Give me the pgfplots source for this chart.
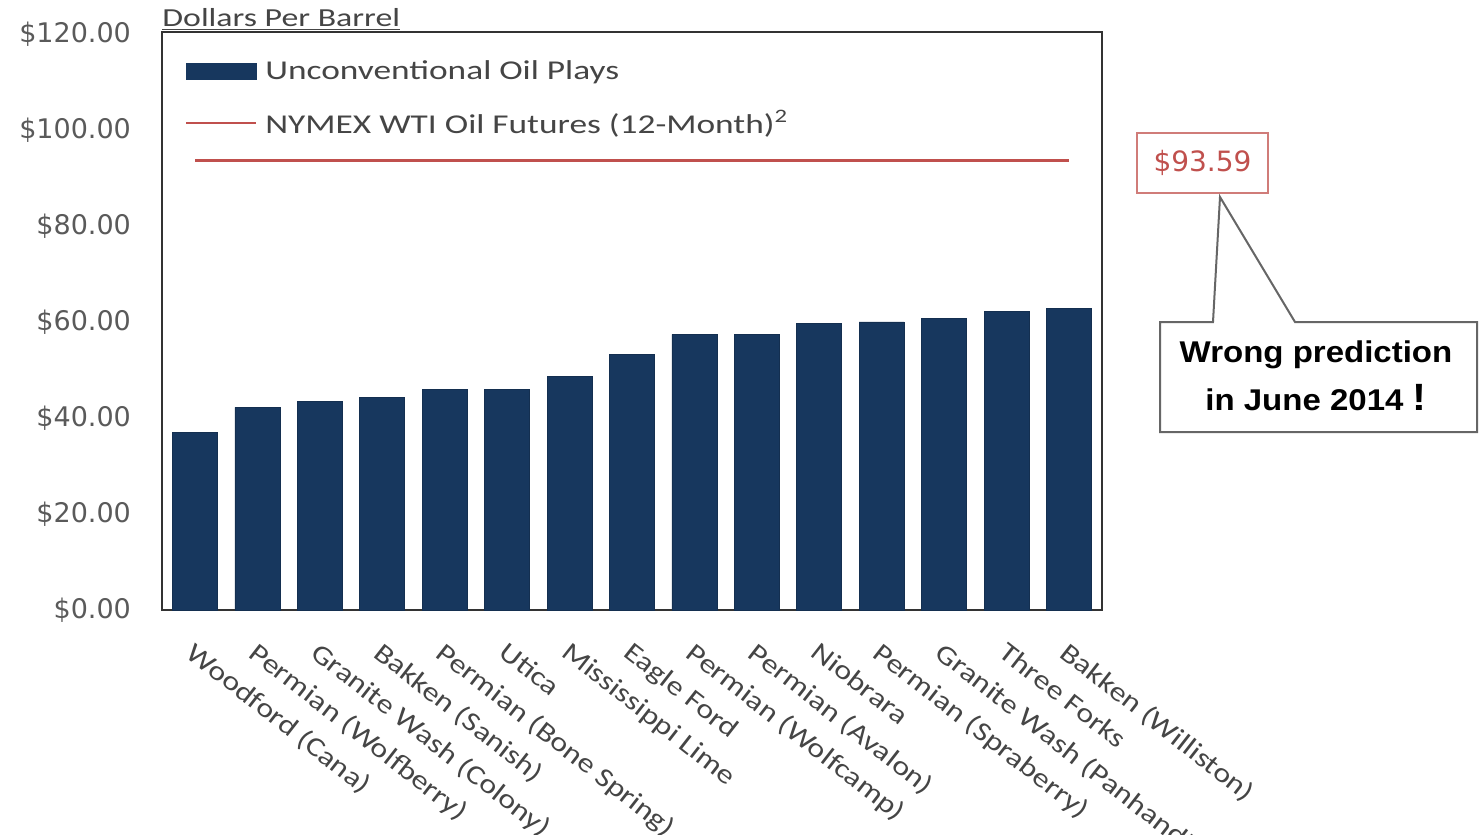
\documentclass[border=0pt]{standalone}
\usepackage{fontspec}
\setmainfont{Carlito}
\newfontfamily\dejavu{DejaVu Sans}
\newfontfamily\arialb[FakeStretch=1.1]{Liberation Sans}
\newfontfamily\legfont[FakeStretch=1.3]{Carlito}
\newfontfamily\catfont[FakeStretch=1.2]{Carlito}
\usepackage{pgfplots}
\pgfplotsset{compat=1.18}
\definecolor{navy}{HTML}{17375E}
\definecolor{wtired}{HTML}{C0504D}
\definecolor{txtgray}{HTML}{454545}
\definecolor{tickgray}{HTML}{5A5A5A}

\begin{document}
\begin{tikzpicture}[x=1pt,y=1pt]
\useasboundingbox (0pt,0pt) rectangle (739.5pt,-417.5pt);
\begin{axis}[
  at={(81pt,-305pt)}, anchor=south west,
  scale only axis, width=470pt, height=289pt,
  xmin=0.47, xmax=15.53, ymin=0, ymax=120.4,
  axis line style={draw=black!80, line width=1.3pt},
  major tick length=0pt,
  ytick={0,20,40,60,80,100,120},
  yticklabels={\$0.00,\$20.00,\$40.00,\$60.00,\$80.00,\$100.00,\$120.00},
  yticklabel style={font=\dejavu\fontsize{13.5}{16}\selectfont, text=tickgray, xshift=-12pt},
  xtick={1,...,15},
  xticklabels={Woodford (Cana),Permian (Wolfberry),Granite Wash (Colony),Bakken (Sanish),Permian (Bone Spring),Utica,Mississippi Lime,Eagle Ford,Permian (Wolfcamp),Permian (Avalon),Niobrara,Permian (Spraberry),Granite Wash (Panhandle),Three Forks,Bakken (Williston)},
  xticklabel style={xshift=1pt, yshift=-15pt, font=\catfont\fontsize{13.5}{16}\selectfont, text=txtgray, rotate=-38, anchor=north west, inner sep=0pt},
  legend cell align=left,
  legend style={draw=none, fill=none, at={(rel axis cs:0.024,0.955)}, anchor=north west,
    font=\legfont\fontsize{13.6}{16}\selectfont, text=txtgray, row sep=12pt, inner sep=0pt,
    nodes={inner sep=1pt},
    /tikz/every odd column/.append style={column sep=3pt}},
]
\addplot[ybar, bar shift=0pt, bar width=22.5pt, fill=navy, draw=navy!85!black, line width=0.4pt,
  legend image code/.code={\fill[navy] (0pt,-4pt) rectangle (35pt,4pt);}]
  coordinates {(1,36.9) (2,42.2) (3,43.4) (4,44.3) (5,46.0) (6,46.0) (7,48.6) (8,53.3)
               (9,57.4) (10,57.4) (11,59.6) (12,60.0) (13,60.7) (14,62.2) (15,62.8)};
\addlegendentry{Unconventional Oil Plays}
\addplot[wtired, line width=1.5pt, mark=none,
  legend image code/.code={\draw[wtired, line width=1.2pt] (0pt,0pt) -- (35pt,0pt);}]
  coordinates {(1,93.59) (15,93.59)};
\addlegendentry{NYMEX WTI Oil Futures (12-Month)\textsuperscript{2}}
\end{axis}
\node[anchor=base west, inner sep=0pt, text=txtgray, font=\legfont\fontsize{13}{16}\selectfont] at (81pt,-13pt) {\underline{Dollars Per Barrel}};
\node[draw=wtired!75, line width=0.8pt, minimum width=65.5pt, minimum height=30pt, text=wtired,
  font=\dejavu\fontsize{14}{16}\selectfont] at (601.25pt,-81.5pt) {\$93.59};
\draw[black!60, line width=1pt, fill=white] (580pt,-161pt) -- (606.5pt,-161pt) -- (610pt,-98.5pt) -- (647.5pt,-161pt) -- (738.5pt,-161pt) -- (738.5pt,-216pt) -- (580pt,-216pt) -- cycle;
\node[align=center, font=\arialb\bfseries\fontsize{15}{24}\selectfont] at (658pt,-188pt) {Wrong prediction\\in June 2014 {\fontsize{19}{24}\selectfont !}};
\end{tikzpicture}
\end{document}
